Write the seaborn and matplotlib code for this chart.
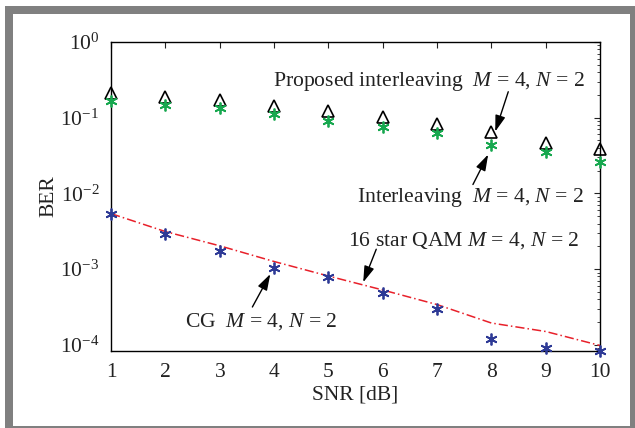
import numpy as np
import seaborn as sns
import matplotlib.pyplot as plt
from matplotlib.patches import Rectangle
from matplotlib.ticker import LogLocator

# data
snr = [1, 2, 3, 4, 5, 6, 7, 8, 9, 10]
ber_proposed = [0.21, 0.185, 0.172, 0.141, 0.121, 0.102, 0.083, 0.065, 0.046, 0.038]
ber_interleaving = [0.164, 0.146, 0.134, 0.112, 0.091, 0.075, 0.062, 0.043, 0.035, 0.026]
ber_cg = [0.0054, 0.00295, 0.00174, 0.00103, 0.00078, 0.00048, 0.000298, 0.000120, 0.0000912, 0.0000830]
ber_star = [0.0054, 0.00313, 0.00203, 0.00126, 0.00081, 0.00053, 0.00034, 0.000194, 0.000150, 0.0000980]

sns.set_theme(style="white")
plt.rcParams['font.family'] = ['Liberation Serif', 'DejaVu Serif']
plt.rcParams['mathtext.fontset'] = 'custom'
plt.rcParams['mathtext.rm'] = 'Liberation Serif'
plt.rcParams['mathtext.it'] = 'Liberation Serif:italic'

fig = plt.figure(figsize=(6.35, 4.28), dpi=100)
# grey frame around the picture
fig.patches.append(Rectangle((5/635, 0), 630/635, 422/428, transform=fig.transFigure,
                             facecolor='#808080', edgecolor='none', zorder=-2))
fig.patches.append(Rectangle((13/635, 2/428), 617/635, 412/428, transform=fig.transFigure,
                             facecolor='white', edgecolor='none', zorder=-1))
ax = fig.add_axes([0.175, 0.180, 0.770, 0.722])
ax.set_facecolor('white')

green = '#17a84f'
blue = '#2e3a96'
red = '#e8202a'
aster = (6, 2, 0)

sns.lineplot(x=snr, y=ber_star, ax=ax, color=red, lw=1.1, linestyle=(0, (6, 2, 1, 2)))
sns.lineplot(x=snr, y=ber_proposed, ax=ax, linestyle='none', marker='^', markersize=8,
             markerfacecolor='none', markeredgecolor='black', markeredgewidth=1.2,
             clip_on=False, zorder=5)
sns.lineplot(x=snr, y=ber_interleaving, ax=ax, linestyle='none', marker=aster, markersize=8.5,
             markeredgecolor=green, markeredgewidth=1.3, color=green, clip_on=False, zorder=5)
sns.lineplot(x=snr, y=ber_cg, ax=ax, linestyle='none', marker=aster, markersize=8.5,
             markeredgecolor=blue, markeredgewidth=1.3, color=blue, clip_on=False, zorder=5)

ax.set_yscale('log')
ax.set_xlim(1, 10)
ax.set_ylim(8.3e-5, 1)
ax.set_xticks(snr)
ax.yaxis.set_major_locator(LogLocator(base=10, numticks=10))
ax.yaxis.set_minor_locator(LogLocator(base=10, subs=np.arange(2, 10), numticks=10))
ax.tick_params(which='both', direction='in', top=True, right=True, labelsize=15.5,
               colors='#222222')
ax.tick_params(which='major', length=4, width=0.8)
ax.tick_params(which='minor', length=2, width=0.6)
ax.tick_params(axis='x', pad=9)
ax.tick_params(axis='y', pad=8.5)
for s in ax.spines.values():
    s.set_color('black')
    s.set_linewidth(1.0)

ax.set_xlabel('SNR [dB]', fontsize=15.5, color='#222222', labelpad=2)
ax.set_ylabel('BER', fontsize=15.5, color='#222222', labelpad=1)

arrow = dict(arrowstyle='-|>,head_width=0.22,head_length=0.7', color='black', lw=1.0,
             mutation_scale=14, shrinkA=0, shrinkB=0)
ax.annotate('', xy=(8.07, 0.0655), xytext=(8.31, 0.22), arrowprops=arrow)
ax.annotate('', xy=(7.94, 0.0326), xytext=(7.66, 0.0131), arrowprops=arrow)
ax.annotate('', xy=(5.64, 0.00067), xytext=(5.88, 0.00183), arrowprops=arrow)
ax.annotate('', xy=(3.93, 0.00086), xytext=(3.60, 0.000316), arrowprops=arrow)

tk = dict(fontsize=15.6, color='#222222', ha='center', va='center')
ax.text(6.85, 0.30, 'Proposed interleaving  $M$ = 4, $N$ = 2', **tk)
ax.text(7.61, 0.0089, 'Interleaving  $M$ = 4, $N$ = 2', **tk)
ax.text(7.48, 0.0024, '16 star QAM $M$ = 4, $N$ = 2', **tk)
ax.text(3.76, 0.0002, 'CG  $M$ = 4, $N$ = 2', **tk)

fig.savefig('out.png', dpi=100)
